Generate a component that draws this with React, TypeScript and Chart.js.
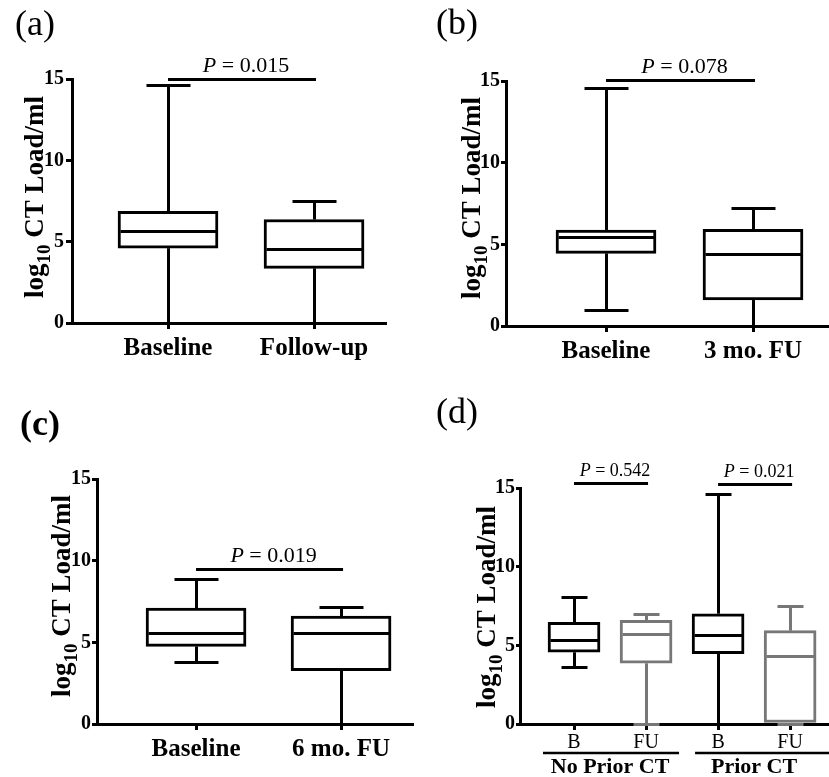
import React, { useEffect, useRef } from "react";
import { Chart, registerables } from "chart.js";

Chart.register(...registerables);

// ---------------- DATA ----------------
const yTicks = [0, 5, 10, 15];

// Panel (a)
const catsA = ["Baseline", "Follow-up"];
const minA = [0, 0];
const q1A = [4.6, 3.36];
const medA = [5.6, 4.52];
const q3A = [6.86, 6.36];
const maxA = [14.6, 7.5];

// Panel (b)
const catsB = ["Baseline", "3 mo. FU"];
const minB = [0.94, 0];
const q1B = [4.45, 1.59];
const medB = [5.41, 4.39];
const q3B = [5.88, 5.92];
const maxB = [14.57, 7.22];

// Panel (c)
const catsC = ["Baseline", "6 mo. FU"];
const minC = [3.77, 0];
const q1C = [4.75, 3.26];
const medC = [5.56, 5.54];
const q3C = [7.09, 6.6];
const maxC = [8.86, 7.15];

// Panel (d)
const catsD = ["B", "FU", "B", "FU"];
const minD = [3.6, 0, 0, 0];
const q1D = [4.56, 3.86, 4.47, 0];
const medD = [5.3, 5.66, 5.64, 4.28];
const q3D = [6.46, 6.59, 7.01, 5.93];
const maxD = [8.07, 6.95, 14.58, 7.46];
const groupNamesD = ["No Prior CT", "Prior CT"];
const groupMembersD = [[0, 1], [2, 3]];

type Comp = { from: number; to: number; y: number; p: string };
const compsA: Comp[] = [{ from: 0, to: 1, y: 15, p: "0.015" }];
const compsB: Comp[] = [{ from: 0, to: 1, y: 15.04, p: "0.078" }];
const compsC: Comp[] = [{ from: 0, to: 1, y: 9.44, p: "0.019" }];
const compsD: Comp[] = [
  { from: 0, to: 1, y: 15.26, p: "0.542" },
  { from: 2, to: 3, y: 15.2, p: "0.021" },
];

// ---------------- LAYOUT / STYLE ----------------
const SERIF = "'Liberation Serif', 'Times New Roman', Times, serif";
const BLACK = "#000000";
const GRAY = "#777777";

interface PanelCfg {
  label: string;
  labelBold: boolean;
  labelX: number;
  labelY: number;
  left: number;
  top: number;
  w: number;
  h: number;
  area: [number, number, number, number];
  xRange: [number, number];
  cats: string[];
  mins: number[];
  q1s: number[];
  meds: number[];
  q3s: number[];
  maxs: number[];
  colors: string[];
  box: number;
  cap: number;
  xFontSize: number;
  xFontBold: boolean;
  xPad: number;
  yTick: number;
  yPad: number;
  titleX: number;
  titleY: number;
  comps: Comp[];
  pSize: number;
  groups?: { names: string[]; members: number[][] };
}

const panels: PanelCfg[] = [
  {
    label: "(a)", labelBold: false, labelX: 15, labelY: 35,
    left: 0, top: 0, w: 414, h: 388,
    area: [72, 79, 385, 323],
    xRange: [0.3425, 2.486],
    cats: catsA, mins: minA, q1s: q1A, meds: medA, q3s: q3A, maxs: maxA,
    colors: [BLACK, BLACK],
    box: 100, cap: 44,
    xFontSize: 25, xFontBold: true, xPad: 5,
    yTick: 6, yPad: 2,
    titleX: 43, titleY: 197,
    comps: compsA, pSize: 22,
  },
  {
    label: "(b)", labelBold: false, labelX: 22, labelY: 34,
    left: 414, top: 0, w: 415, h: 388,
    area: [92, 81, 415, 326],
    xRange: [0.3197, 2.517],
    cats: catsB, mins: minB, q1s: q1B, meds: medB, q3s: q3B, maxs: maxB,
    colors: [BLACK, BLACK],
    box: 100, cap: 44,
    xFontSize: 25, xFontBold: true, xPad: 5,
    yTick: 5, yPad: 1,
    titleX: 66, titleY: 198,
    comps: compsB, pSize: 22,
  },
  {
    label: "(c)", labelBold: true, labelX: 20, labelY: 47,
    left: 0, top: 388, w: 414, h: 389,
    area: [97, 91, 414, 336],
    xRange: [0.317, 2.503],
    cats: catsC, mins: minC, q1s: q1C, meds: medC, q3s: q3C, maxs: maxC,
    colors: [BLACK, BLACK],
    box: 100, cap: 44,
    xFontSize: 25, xFontBold: true, xPad: 5,
    yTick: 5, yPad: 1,
    titleX: 70, titleY: 208,
    comps: compsC, pSize: 22,
  },
  {
    label: "(d)", labelBold: false, labelX: 22, labelY: 35,
    left: 414, top: 388, w: 415, h: 389,
    area: [106, 100, 415, 336],
    xRange: [0.25, 4.54],
    cats: catsD, mins: minD, q1s: q1D, meds: medD, q3s: q3D, maxs: maxD,
    colors: [BLACK, GRAY, BLACK, GRAY],
    box: 52, cap: 26,
    xFontSize: 20, xFontBold: false, xPad: 1,
    yTick: 4, yPad: 1,
    titleX: 81, titleY: 219,
    comps: compsD, pSize: 18,
    groups: { names: groupNamesD, members: groupMembersD },
  },
];

function line(ctx: CanvasRenderingContext2D, x1: number, y1: number, x2: number, y2: number) {
  ctx.beginPath();
  ctx.moveTo(x1, y1);
  ctx.lineTo(x2, y2);
  ctx.stroke();
}

const al = (v: number) => Math.floor(v) + 0.5;

function makePlugin(cfg: PanelCfg) {
  return {
    id: "boxExtras",
    afterDatasetsDraw(chart: any) {
      const ctx: CanvasRenderingContext2D = chart.ctx;
      const xs = chart.scales.x;
      const ys = chart.scales.y;
      ctx.save();
      ctx.lineWidth = 3;
      ctx.lineCap = "butt";
      cfg.cats.forEach((_, i) => {
        const cx = al(xs.getPixelForValue(i + 1));
        ctx.strokeStyle = cfg.colors[i];
        const pMin = al(ys.getPixelForValue(cfg.mins[i]));
        const pQ1 = ys.getPixelForValue(cfg.q1s[i]);
        const pMed = al(ys.getPixelForValue(cfg.meds[i]));
        const pQ3 = ys.getPixelForValue(cfg.q3s[i]);
        const pMax = al(ys.getPixelForValue(cfg.maxs[i]));
        if (pMin - pQ1 > 0.5) line(ctx, cx, pMin, cx, pQ1);
        line(ctx, cx, pQ3, cx, pMax);
        line(ctx, cx - cfg.cap / 2, pMin, cx + cfg.cap / 2, pMin);
        line(ctx, cx - cfg.cap / 2, pMax, cx + cfg.cap / 2, pMax);
        line(ctx, cx - cfg.box / 2 + 2, pMed, cx + cfg.box / 2 - 2, pMed);
      });
      ctx.restore();
    },
    afterDraw(chart: any) {
      const ctx: CanvasRenderingContext2D = chart.ctx;
      const xs = chart.scales.x;
      const ys = chart.scales.y;
      ctx.save();
      ctx.fillStyle = BLACK;
      ctx.strokeStyle = BLACK;
      ctx.textBaseline = "alphabetic";
      ctx.textAlign = "left";

      // panel label
      ctx.font = `${cfg.labelBold ? "bold " : ""}36px ${SERIF}`;
      ctx.fillText(cfg.label, cfg.labelX, cfg.labelY);

      // y axis title with subscript
      ctx.save();
      ctx.translate(cfg.titleX, cfg.titleY);
      ctx.rotate(-Math.PI / 2);
      const fMain = `bold 27px ${SERIF}`;
      const fSub = `bold 19px ${SERIF}`;
      const parts: [string, string, number][] = [
        ["log", fMain, 0],
        ["10", fSub, 7],
        [" CT Load/ml", fMain, 0],
      ];
      let total = 0;
      const widths = parts.map(([t, f]) => {
        ctx.font = f;
        const w = ctx.measureText(t).width;
        total += w;
        return w;
      });
      let tx = -total / 2;
      parts.forEach(([t, f, dy], k) => {
        ctx.font = f;
        ctx.fillText(t, tx, dy);
        tx += widths[k];
      });
      ctx.restore();

      // P-value comparisons
      ctx.lineWidth = 3;
      cfg.comps.forEach((c) => {
        const x1 = xs.getPixelForValue(c.from + 1);
        const x2 = xs.getPixelForValue(c.to + 1);
        const py = al(ys.getPixelForValue(c.y));
        line(ctx, x1, py, x2 + 2, py);
        ctx.font = `italic ${cfg.pSize}px ${SERIF}`;
        const wP = ctx.measureText("P").width;
        ctx.font = `${cfg.pSize}px ${SERIF}`;
        const rest = " = " + c.p;
        const wR = ctx.measureText(rest).width;
        const mid = (x1 + x2) / 2 + 5;
        const sx = mid - (wP + wR) / 2;
        ctx.font = `italic ${cfg.pSize}px ${SERIF}`;
        ctx.fillText("P", sx, py - 8);
        ctx.font = `${cfg.pSize}px ${SERIF}`;
        ctx.fillText(rest, sx + wP, py - 8);
      });

      // group brackets (panel d)
      if (cfg.groups) {
        const base = chart.chartArea.bottom;
        const gy = base + 29;
        ctx.lineWidth = 2.5;
        cfg.groups.members.forEach((m, g) => {
          const a = xs.getPixelForValue(m[0] + 1);
          const b = xs.getPixelForValue(m[m.length - 1] + 1);
          const right = g === cfg.groups!.members.length - 1 ? chart.width : b + 33;
          const leftX = g === 0 ? a - 31 : a - 23;
          line(ctx, leftX, gy, right, gy);
          ctx.font = `bold 22px ${SERIF}`;
          ctx.textAlign = "center";
          ctx.fillText(cfg.groups!.names[g], (a + b) / 2, base + 49);
          ctx.textAlign = "left";
        });
      }
      ctx.restore();
    },
  };
}

function Panel({ cfg }: { cfg: PanelCfg }) {
  const ref = useRef<HTMLCanvasElement | null>(null);
  useEffect(() => {
    if (!ref.current) return;
    const [l, t, r, b] = cfg.area;
    const xH = cfg.h - b;
    const chart = new Chart(ref.current, {
      type: "bar",
      data: {
        datasets: [
          {
            data: cfg.cats.map((_, i) => ({ x: i + 1, y: [cfg.q1s[i], cfg.q3s[i]] })) as any,
            backgroundColor: "#ffffff",
            borderColor: cfg.colors,
            borderWidth: 3,
            borderSkipped: false,
            barThickness: cfg.box,
            maxBarThickness: cfg.box,
            clip: false as any,
          } as any,
        ],
      },
      options: {
        responsive: false,
        animation: false,
        events: [],
        layout: { padding: { left: 0, top: t, right: cfg.w - r, bottom: 0 } },
        plugins: {
          legend: { display: false },
          tooltip: { enabled: false },
          title: { display: false },
        },
        scales: {
          x: {
            type: "linear",
            min: cfg.xRange[0],
            max: cfg.xRange[1],
            offset: false,
            afterBuildTicks: (s: any) => {
              s.ticks = cfg.cats.map((_, i) => ({ value: i + 1 }));
            },
            afterFit: (s: any) => {
              s.height = xH;
            },
            ticks: {
              autoSkip: false,
              maxRotation: 0,
              minRotation: 0,
              color: BLACK,
              padding: cfg.xPad,
              font: { family: SERIF, size: cfg.xFontSize, weight: cfg.xFontBold ? "bold" : "normal" },
              callback: (_v: any, idx: number) => cfg.cats[idx],
            },
            grid: {
              display: true,
              offset: false,
              drawOnChartArea: false,
              drawTicks: true,
              tickLength: 6,
              lineWidth: 3,
              color: BLACK,
            },
            border: { display: true, width: 3, color: BLACK },
          } as any,
          y: {
            type: "linear",
            min: 0,
            max: 15,
            afterBuildTicks: (s: any) => {
              s.ticks = yTicks.map((v) => ({ value: v }));
            },
            afterFit: (s: any) => {
              s.width = l;
            },
            ticks: {
              color: BLACK,
              padding: cfg.yPad,
              font: { family: SERIF, size: 20, weight: "bold" },
            },
            grid: {
              display: true,
              drawOnChartArea: false,
              drawTicks: true,
              tickLength: cfg.yTick,
              lineWidth: 3,
              color: BLACK,
            },
            border: { display: true, width: 3, color: BLACK },
          } as any,
        },
      },
      plugins: [makePlugin(cfg)],
    });
    return () => chart.destroy();
  }, [cfg]);
  return (
    <canvas
      ref={ref}
      width={cfg.w}
      height={cfg.h}
      style={{ position: "absolute", left: cfg.left, top: cfg.top, width: cfg.w, height: cfg.h }}
    />
  );
}

export default function App() {
  return (
    <div
      style={{
        position: "absolute",
        left: 0,
        top: 0,
        width: 829,
        height: 777,
        background: "#ffffff",
        overflow: "hidden",
      }}
    >
      {panels.map((p) => (
        <Panel key={p.label} cfg={p} />
      ))}
    </div>
  );
}
